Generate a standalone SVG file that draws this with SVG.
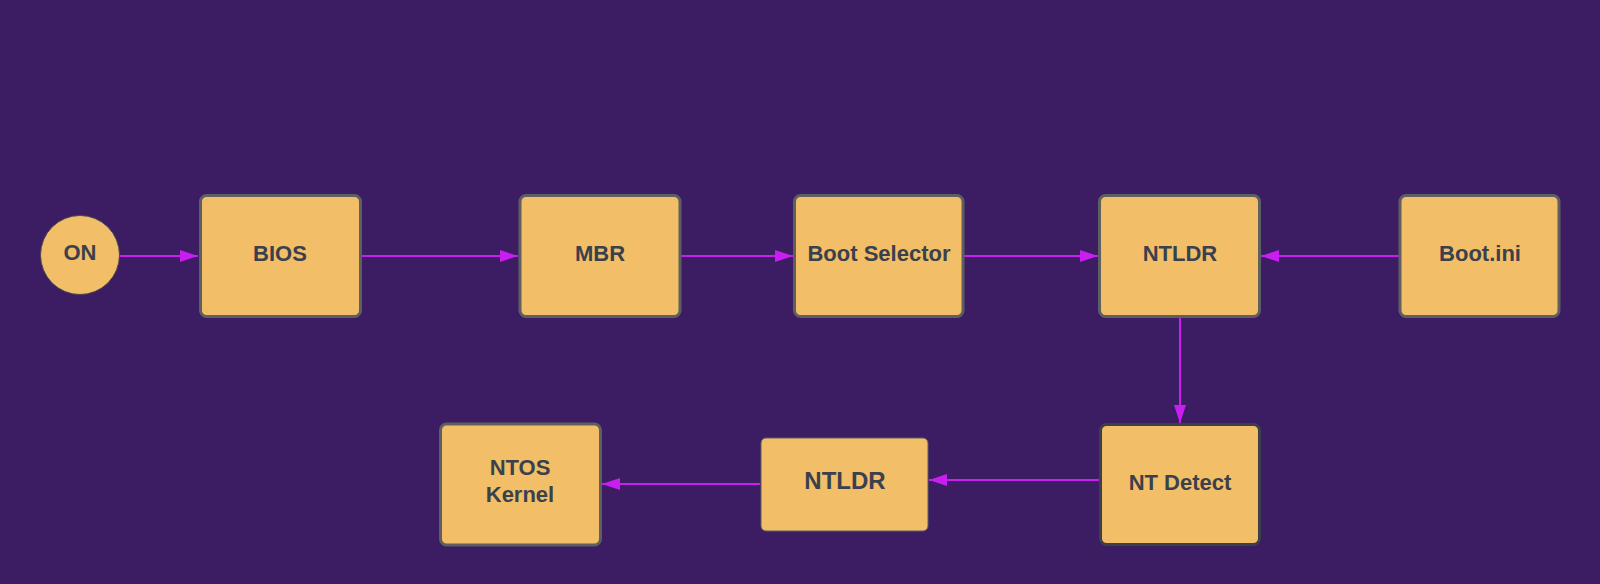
<svg xmlns="http://www.w3.org/2000/svg" width="1600" height="584" viewBox="0 0 1600 584">
<style>
.box{fill:#f2be67;stroke:#5e5f60;stroke-width:3}
.dark{stroke:#3b404b}
.thin{stroke:#5e5f60;stroke-width:1}
.lbl{font-family:"Liberation Sans",Arial,sans-serif;font-weight:bold;font-size:22px;fill:#3a414c;text-anchor:middle}
.big{font-size:24px}
.edge{stroke:#c81ef0;stroke-width:2;fill:none}
</style>
<defs>
<marker id="ah" markerWidth="18" markerHeight="12" refX="18" refY="6" orient="auto" markerUnits="userSpaceOnUse">
<path d="M0,0 L18,6 L0,12 Z" fill="#c81ef0"/>
</marker>
</defs>
<rect width="1600" height="584" fill="#3c1c62"/>
<g id="connectors">
<line class="edge" x1="120" y1="256" x2="198" y2="256" marker-end="url(#ah)"/>
<line class="edge" x1="361" y1="256" x2="518" y2="256" marker-end="url(#ah)"/>
<line class="edge" x1="681" y1="256" x2="793" y2="256" marker-end="url(#ah)"/>
<line class="edge" x1="964" y1="256" x2="1098" y2="256" marker-end="url(#ah)"/>
<line class="edge" x1="1399" y1="256" x2="1261" y2="256" marker-end="url(#ah)"/>
<line class="edge" x1="1180" y1="317" x2="1180" y2="423" marker-end="url(#ah)"/>
<line class="edge" x1="1099" y1="480" x2="929" y2="480" marker-end="url(#ah)"/>
<line class="edge" x1="760" y1="484" x2="602" y2="484" marker-end="url(#ah)"/>
</g>
<g id="node-on">
<circle cx="80" cy="255" r="39.5" fill="#f2be67" stroke="#4a4a50" stroke-width="1"/>
<text class="lbl" x="80" y="260">ON</text>
</g>
<g id="node-bios">
<rect class="box" x="200.5" y="195.5" width="160" height="121" rx="6"/>
<text class="lbl" x="280" y="261">BIOS</text>
</g>
<g id="node-mbr">
<rect class="box" x="520" y="195.5" width="160" height="121" rx="6"/>
<text class="lbl" x="600" y="261">MBR</text>
</g>
<g id="node-bootselector">
<rect class="box" x="794.5" y="195.5" width="168.5" height="121" rx="6"/>
<text class="lbl" x="879" y="261">Boot Selector</text>
</g>
<g id="node-ntldr">
<rect class="box" x="1099.5" y="195.5" width="160" height="121" rx="6"/>
<text class="lbl" x="1180" y="261">NTLDR</text>
</g>
<g id="node-bootini">
<rect class="box" x="1400" y="195.5" width="159" height="121" rx="6"/>
<text class="lbl" x="1480" y="261">Boot.ini</text>
</g>
<g id="node-ntdetect">
<rect class="box dark" x="1100.5" y="424.5" width="159" height="120" rx="6"/>
<text class="lbl" x="1180" y="490">NT Detect</text>
</g>
<g id="node-ntldr2">
<rect class="box thin" x="761" y="438" width="167" height="93" rx="5"/>
<text class="lbl big" x="845" y="489">NTLDR</text>
</g>
<g id="node-ntos">
<rect class="box" x="440.5" y="424" width="160" height="121" rx="6"/>
<text class="lbl" x="520" y="475">NTOS</text>
<text class="lbl" x="520" y="502">Kernel</text>
</g>
</svg>
